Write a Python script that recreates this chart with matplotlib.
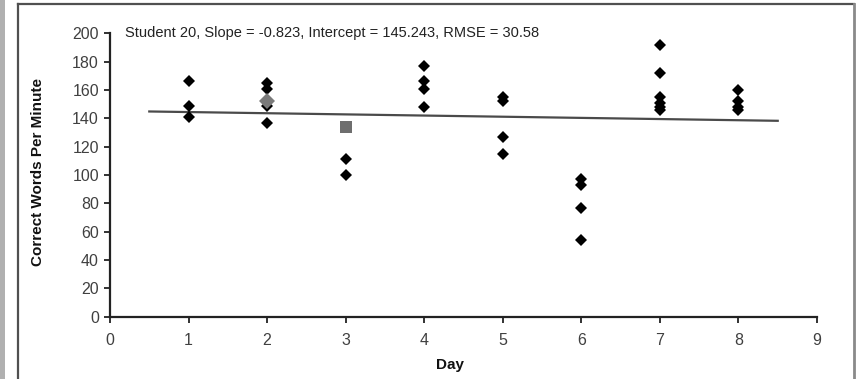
import matplotlib.pyplot as plt
from matplotlib.lines import Line2D
from matplotlib.patches import Rectangle

# scores per day (correct words per minute)
days = [1, 1, 1,
        2, 2, 2, 2,
        3, 3,
        4, 4, 4, 4,
        5, 5, 5, 5,
        6, 6, 6, 6,
        7, 7, 7, 7, 7, 7,
        8, 8, 8, 8]
scores = [166, 149, 141,
          165, 161, 149, 137,
          111, 100,
          177, 166, 161, 148,
          155, 152, 127, 115,
          97, 93, 77, 54,
          192, 172, 155, 151, 148, 146,
          160, 152, 148, 146]

# highlighted points
diamond_day = [2]
diamond_score = [152]
square_day = [3]
square_score = [134]

slope = -0.823
intercept = 145.243
rmse = 30.58
line_days = [0.5, 8.5]

W, H = 861, 379
fig = plt.figure(figsize=(W / 100, H / 100), dpi=100)
plt.rcParams['font.family'] = ['Liberation Sans', 'DejaVu Sans']

# axes placed by pixel positions
x0, x1 = 110, 817
y0, y1 = 316.7, 33.3
ax = fig.add_axes([x0 / W, 1 - y0 / H, (x1 - x0) / W, (y0 - y1) / H])

line_vals = [intercept + slope * d for d in line_days]
ax.plot(line_days, line_vals, color="#4a4a4a", lw=1.6, zorder=2)
ax.plot(days, scores, "D", color="black", ms=6, mew=0, zorder=3)
ax.plot(diamond_day, diamond_score, "D", color="#7a7a7a", ms=8, mew=0, zorder=4)
ax.plot(square_day, square_score, "s", color="#6e6e6e", ms=9, mew=0, zorder=4)

ax.set_xlim(0, 9)
ax.set_ylim(0, 200)
ax.set_xticks(range(0, 10))
ax.set_yticks(range(0, 201, 20))
for s in ["top", "right"]:
    ax.spines[s].set_visible(False)
for s in ["left", "bottom"]:
    ax.spines[s].set_linewidth(1.6)
    ax.spines[s].set_color("#222222")
ax.tick_params(direction="out", length=4, width=1.3, color="#222222",
               labelsize=11.5, labelcolor="#404040", pad=4)
ax.tick_params(axis="x", pad=8)

fig.text(125 / W, 1 - 33 / H,
         f"Student 20, Slope = {slope}, Intercept = {intercept}, RMSE = {rmse}",
         fontsize=10.5, color="#222222", ha="left", va="center")
fig.text(38 / W, 1 - 172 / H, "Correct Words Per Minute", rotation=90,
         fontsize=11, fontweight="bold", color="#111111", ha="center", va="center")
fig.text(450 / W, 1 - 365 / H, "Day", fontsize=11, fontweight="bold",
         color="#111111", ha="center", va="center")

# outer frame
fig.add_artist(Rectangle((0, 0), 4.5 / W, 1, transform=fig.transFigure,
                         facecolor="#b0b0b0", edgecolor="none"))
fig.add_artist(Line2D([18 / W, 18 / W], [0, 1 - 3.5 / H], transform=fig.transFigure,
                      color="#505050", lw=1.6))
fig.add_artist(Line2D([18 / W, 854 / W], [1 - 3.5 / H, 1 - 3.5 / H],
                      transform=fig.transFigure, color="#505050", lw=1.6))
fig.add_artist(Line2D([853.5 / W, 853.5 / W], [0, 1 - 3.5 / H], transform=fig.transFigure,
                      color="#8a8a8a", lw=2))

fig.savefig("out.png", dpi=100)
